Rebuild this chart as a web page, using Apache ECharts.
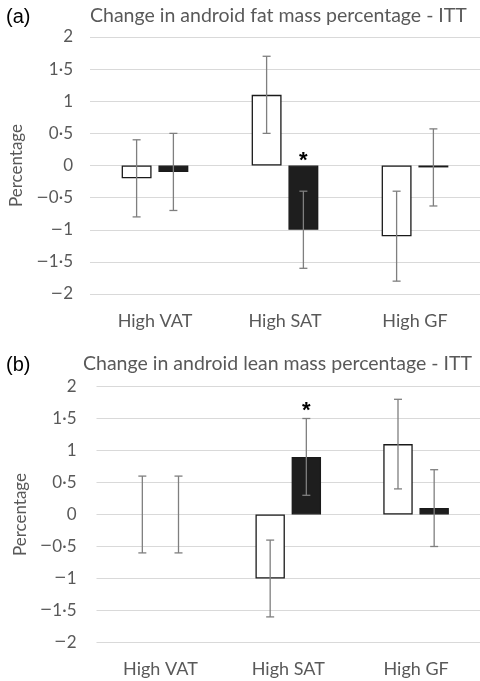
<!DOCTYPE html>
<html><head><meta charset="utf-8">
<script src="https://cdn.jsdelivr.net/npm/echarts@6/dist/echarts.min.js"></script>
<style>html,body{margin:0;padding:0;background:#fff}#c{width:480px;height:681px}</style>
</head><body><div id="c"></div>
<script>
const categories = ['High VAT', 'High SAT', 'High GF'];
// (a) fat mass
const fatWhite = [-0.2, 1.1, -1.1];
const fatWhiteLow = [-0.8, 0.5, -1.8];
const fatWhiteHigh = [0.4, 1.7, -0.4];
const fatBlack = [-0.1, -1.0, -0.03];
const fatBlackLow = [-0.7, -1.6, -0.63];
const fatBlackHigh = [0.5, -0.4, 0.57];
const fatStar = [null, 0.15, null];
// (b) lean mass
const leanWhite = [0, -1.0, 1.1];
const leanWhiteLow = [-0.6, -1.6, 0.4];
const leanWhiteHigh = [0.6, -0.4, 1.8];
const leanBlack = [0, 0.9, 0.1];
const leanBlackLow = [-0.6, 0.3, -0.5];
const leanBlackHigh = [0.6, 1.5, 0.7];
const leanStar = [null, 1.7, null];
const yMin = -2, yMax = 2, yStep = 0.5;

const FONT = 'Lato';
const GRAY = '#595959';
const BW = 0.23, GAP = 0.23;

function fmt(v) {
  const s = String(Math.abs(v)).replace('.', '\u00b7');
  return v < 0 ? '{m|\u2212}' + s : s;
}

function errSeries(idx, low, high, side) {
  return {
    type: 'custom', xAxisIndex: idx, yAxisIndex: idx, z: 5,
    data: categories.map((c, i) => [i, low[i], high[i]]),
    renderItem: function (params, api) {
      const pLo = api.coord([api.value(0), api.value(1)]);
      const pHi = api.coord([api.value(0), api.value(2)]);
      const band = api.size([1, 0])[0];
      const bw = band * BW;
      const cx = pLo[0] + side * bw * (1 + GAP) / 2;
      const cap = 4;
      const st = { stroke: '#7f7f7f', lineWidth: 1.3 };
      return { type: 'group', children: [
        { type: 'line', shape: { x1: cx, y1: pHi[1], x2: cx, y2: pLo[1] }, style: st },
        { type: 'line', shape: { x1: cx - cap, y1: pHi[1], x2: cx + cap, y2: pHi[1] }, style: st },
        { type: 'line', shape: { x1: cx - cap, y1: pLo[1], x2: cx + cap, y2: pLo[1] }, style: st }
      ]};
    }
  };
}
function starSeries(idx, star) {
  return {
    type: 'custom', xAxisIndex: idx, yAxisIndex: idx, z: 6,
    data: categories.map((c, i) => [i, star[i]]).filter(d => d[1] !== null),
    renderItem: function (params, api) {
      const p = api.coord([api.value(0), api.value(1)]);
      const band = api.size([1, 0])[0];
      const bw = band * BW;
      const cx = p[0] + bw * (1 + GAP) / 2;
      return { type: 'text', x: cx, y: p[1] + 5, style: { text: '*', fontFamily: 'Liberation Sans', fontWeight: 'bold', fontSize: 22, fill: '#000', align: 'center', verticalAlign: 'middle' } };
    }
  };
}
function barSeries(idx, data, color) {
  return {
    type: 'bar', xAxisIndex: idx, yAxisIndex: idx,
    data: data.map(v => v === 0 ? { value: 0, itemStyle: { borderWidth: 0 } } : v),
    barWidth: (BW * 100) + '%', barGap: (GAP * 100) + '%',
    itemStyle: { color: color, borderColor: '#1a1a1a', borderWidth: 1.3 },
    animation: false
  };
}
function xAx(idx) {
  return { type: 'category', gridIndex: idx, data: categories,
    axisLine: { show: false }, axisTick: { show: false },
    axisLabel: { color: GRAY, fontFamily: FONT, fontSize: 18, margin: 18 } };
}
function yAx(idx, gap, margin) {
  return { type: 'value', gridIndex: idx, min: yMin, max: yMax, interval: yStep,
    name: 'Percentage', nameLocation: 'middle', nameGap: gap, nameRotate: 90,
    nameTextStyle: { color: GRAY, fontFamily: FONT, fontSize: 17 },
    axisLine: { show: false }, axisTick: { show: false },
    splitLine: { lineStyle: { color: '#d9d9d9', width: 1 } },
    axisLabel: { color: GRAY, fontFamily: FONT, fontSize: 17, margin: margin, formatter: fmt,
      rich: { m: { fontFamily: 'DejaVu Sans', fontSize: 15, color: GRAY } } } };
}
const tTitle = { color: GRAY, fontFamily: FONT, fontSize: 19.5, fontWeight: 'normal' };
const tTag = { color: '#000', fontFamily: 'Liberation Sans', fontSize: 20, fontWeight: 'normal' };

const chart = echarts.init(document.getElementById('c'), null, { renderer: 'canvas' });
chart.setOption({
  animation: false,
  title: [
    { text: '(a)', left: 6, top: 7, padding: 0, textStyle: tTag },
    { text: 'Change in android fat mass percentage - ITT', left: 90, top: 6, padding: 0, textStyle: tTitle },
    { text: '(b)', left: 6, top: 355, padding: 0, textStyle: tTag },
    { text: 'Change in android lean mass percentage - ITT', left: 83, top: 354, padding: 0, textStyle: tTitle }
  ],
  grid: [
    { left: 90, right: -4.5, top: 37, height: 257 },
    { left: 96.5, right: -3.5, top: 386.5, height: 256 }
  ],
  xAxis: [xAx(0), xAx(1)],
  yAxis: [yAx(0, 58, 17), yAx(1, 65, 20)],
  series: [
    barSeries(0, fatWhite, '#ffffff'),
    barSeries(0, fatBlack, '#1e1e1e'),
    errSeries(0, fatWhiteLow, fatWhiteHigh, -1),
    errSeries(0, fatBlackLow, fatBlackHigh, 1),
    starSeries(0, fatStar),
    barSeries(1, leanWhite, '#ffffff'),
    barSeries(1, leanBlack, '#1e1e1e'),
    errSeries(1, leanWhiteLow, leanWhiteHigh, -1),
    errSeries(1, leanBlackLow, leanBlackHigh, 1),
    starSeries(1, leanStar)
  ]
});
</script></body></html>
